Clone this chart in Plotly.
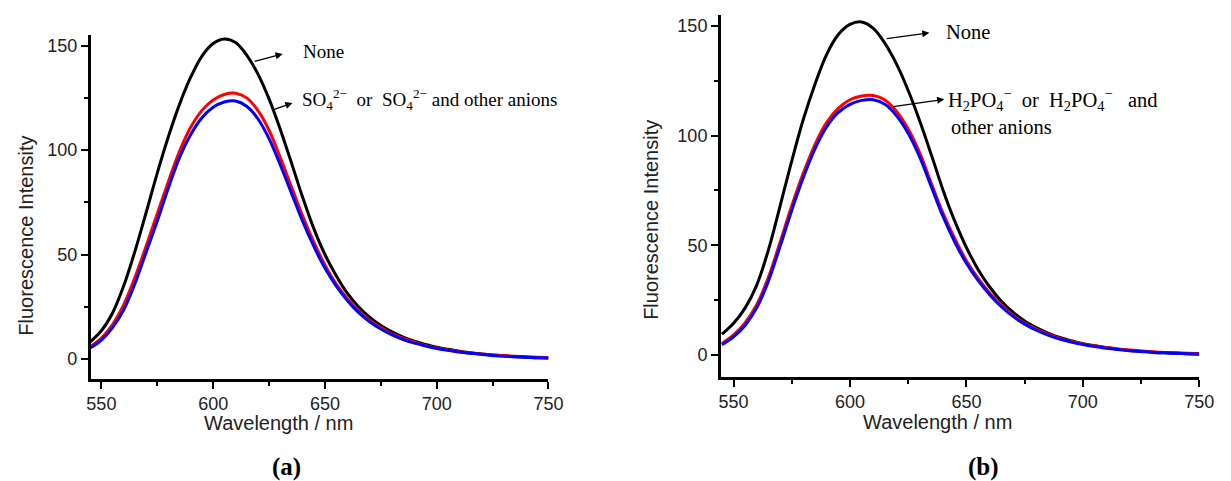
import plotly.graph_objects as go

# ---------------- data ----------------
wavelength = list(range(545, 751, 5))

# panel (a)
a_none = [8.2, 13.5, 22, 35, 51.5, 70, 89, 106.5, 122, 135, 145, 151, 153.2, 151.5, 145.5,
          136.5, 124.5, 110, 94, 77.5, 62.5, 50, 40, 31.5, 25, 20, 16, 13, 10.5, 8.5,
          7, 5.6, 4.6, 3.7, 3, 2.4, 1.9, 1.5, 1.1, 0.8, 0.6, 0.4]
a_so4 = [5.9, 10, 16.5, 26, 39, 54, 69.5, 85, 99.5, 111, 119, 124, 126.6, 127.2, 125,
         119, 109.5, 96.5, 82.5, 68.5, 56, 45, 36, 29, 23, 18.5, 15, 12, 9.8, 8,
         6.5, 5.3, 4.3, 3.5, 2.9, 2.4, 1.9, 1.6, 1.3, 1.0, 0.8, 0.7]
a_so4_mix = [5.2, 9, 15, 23.5, 36, 51, 66, 82, 96.5, 107.5, 115.5, 120.5, 123, 123.5, 121,
             115, 105.5, 93, 79.5, 66, 54, 43.5, 35, 28, 22.3, 17.8, 14.3, 11.5, 9.3, 7.6,
             6.2, 5, 4.1, 3.3, 2.7, 2.2, 1.7, 1.3, 1.0, 0.8, 0.6, 0.5]

# panel (b)
b_none = [9.5, 14.5, 21.5, 32, 48, 68, 88.5, 107.5, 123.5, 137, 146, 150.6, 151.7, 148.8, 142,
          132.5, 120.5, 106.5, 91, 75, 61, 49, 39, 31, 24.5, 19.5, 15.5, 12.5, 10, 8,
          6.5, 5.2, 4.2, 3.4, 2.7, 2.1, 1.7, 1.3, 1.0, 0.8, 0.6, 0.4]
b_h2po4 = [5.3, 9.2, 14.8, 23, 35.5, 51.5, 68, 83, 96, 106, 112.5, 116.3, 118, 118.2, 116.2,
           111, 103, 92, 78, 64.5, 53, 43, 35, 28.3, 22.8, 18.2, 14.6, 11.8, 9.5, 7.7,
           6.2, 5.1, 4.2, 3.4, 2.8, 2.3, 1.9, 1.5, 1.2, 1.0, 0.8, 0.7]
b_h2po4_mix = [4.7, 8.3, 13.6, 21.6, 33.8, 49.5, 66, 81, 94, 104, 110.5, 114.2, 116, 116.3, 114.2,
               109, 101, 90, 76.5, 63, 51.5, 41.8, 34, 27.5, 22, 17.6, 14.1, 11.3, 9.1, 7.3,
               5.9, 4.8, 3.9, 3.1, 2.5, 2.0, 1.6, 1.2, 1.0, 0.8, 0.6, 0.5]

x_ticks = [550, 600, 650, 700, 750]
y_ticks = [0, 50, 100, 150]

# ---------------- figure ----------------
W, H = 1231, 481
fig = go.Figure()

def add_curve(x, y, color, xa, ya, name):
    fig.add_trace(go.Scatter(x=x, y=y, mode="lines", name=name,
                             line=dict(color=color, width=3, shape="spline", smoothing=1.0),
                             xaxis=xa, yaxis=ya, showlegend=False))

add_curve(wavelength, a_none, "black", "x", "y", "None")
add_curve(wavelength, a_so4, "#ff0000", "x", "y", "SO4 2-")
add_curve(wavelength, a_so4_mix, "#0000ff", "x", "y", "SO4 2- and other anions")
add_curve(wavelength, b_none, "black", "x2", "y2", "None")
add_curve(wavelength, b_h2po4, "#ff0000", "x2", "y2", "H2PO4-")
add_curve(wavelength, b_h2po4_mix, "#0000ff", "x2", "y2", "H2PO4- and other anions")

tick_font = dict(family="Liberation Sans, Arial, sans-serif", size=18, color="#222")

def xaxis(domain, rng, anchor):
    return dict(domain=domain, range=rng, anchor=anchor, tickvals=x_ticks,
                showline=True, linecolor="black", linewidth=2.5, mirror=False,
                ticks="outside", ticklen=7, tickwidth=2, tickcolor="black",
                minor=dict(dtick=25, tick0=550, ticks="outside", ticklen=4, tickwidth=2,
                           tickcolor="black", showgrid=False),
                showgrid=False, zeroline=False, tickfont=tick_font, fixedrange=True)

def yaxis(domain, rng, anchor):
    return dict(domain=domain, range=rng, anchor=anchor, tickvals=y_ticks,
                showline=True, linecolor="black", linewidth=2.5, mirror=False,
                ticks="outside", ticklen=7, tickwidth=2, tickcolor="black",
                minor=dict(dtick=25, tick0=0, ticks="outside", ticklen=4, tickwidth=2,
                           tickcolor="black", showgrid=False),
                showgrid=False, zeroline=False, tickfont=tick_font, fixedrange=True)

serif = "Liberation Serif, Times New Roman, serif"
sans = "Liberation Sans, Arial, sans-serif"
nb = "\u00a0"

annotations = [
    # arrows panel (a)
    dict(x=631.1, y=146.0, ax=617.9, ay=142.3, xref="x", yref="y", axref="x", ayref="y",
         text="", showarrow=True, arrowhead=2, arrowsize=1.1, arrowwidth=1.3, arrowcolor="black"),
    dict(x=635.5, y=122.5, ax=626.7, ay=119.2, xref="x", yref="y", axref="x", ayref="y",
         text="", showarrow=True, arrowhead=2, arrowsize=1.1, arrowwidth=1.3, arrowcolor="black"),
    dict(x=639.5, y=147.0, xref="x", yref="y", text="None", showarrow=False,
         xanchor="left", yanchor="middle", font=dict(family=serif, size=19, color="black")),
    dict(x=638.9, y=124.0, xref="x", yref="y",
         text=f"SO<sub>4</sub><sup>2\u2212</sup>{nb}{nb}or{nb}{nb}SO<sub>4</sub><sup>2\u2212</sup> and other anions",
         showarrow=False, xanchor="left", yanchor="middle",
         font=dict(family=serif, size=19, color="black")),
    # arrows panel (b)
    dict(x=634.1, y=146.8, ax=615.1, ay=144.0, xref="x2", yref="y2", axref="x2", ayref="y2",
         text="", showarrow=True, arrowhead=2, arrowsize=1.1, arrowwidth=1.3, arrowcolor="black"),
    dict(x=640.5, y=116.5, ax=617.9, ay=113.1, xref="x2", yref="y2", axref="x2", ayref="y2",
         text="", showarrow=True, arrowhead=2, arrowsize=1.1, arrowwidth=1.3, arrowcolor="black"),
    dict(x=640.5, y=147.3, xref="x2", yref="y2", text="None", showarrow=False,
         xanchor="left", yanchor="middle", font=dict(family=serif, size=20.5, color="black")),
    dict(x=641.3, y=116.2, xref="x2", yref="y2",
         text=f"H<sub>2</sub>PO<sub>4</sub><sup>\u2212</sup>{nb}{nb}or{nb}{nb}H<sub>2</sub>PO<sub>4</sub><sup>\u2212</sup>{nb}{nb}{nb}and",
         showarrow=False, xanchor="left", yanchor="middle",
         font=dict(family=serif, size=20.5, color="black")),
    dict(x=642.6, y=104.0, xref="x2", yref="y2", text="other anions", showarrow=False,
         xanchor="left", yanchor="middle", font=dict(family=serif, size=20.5, color="black")),
    # axis titles
    dict(x=279 / W, y=1 - 423 / H, xref="paper", yref="paper", text="Wavelength / nm",
         showarrow=False, xanchor="center", yanchor="middle",
         font=dict(family=sans, size=20, color="#222")),
    dict(x=948 / W, y=1 - 421.7 / H, xref="paper", yref="paper", text="Wavelength / nm",
         showarrow=False, xanchor="center", yanchor="middle",
         font=dict(family=sans, size=20, color="#222")),
    dict(x=22 / W, y=1 - 236 / H, xref="paper", yref="paper", text="Fluorescence Intensity",
         showarrow=False, xanchor="center", yanchor="middle", textangle=-90,
         font=dict(family=sans, size=20, color="#222")),
    dict(x=657 / W, y=1 - 220 / H, xref="paper", yref="paper", text="Fluorescence Intensity",
         showarrow=False, xanchor="center", yanchor="middle", textangle=-90,
         font=dict(family=sans, size=20, color="#222")),
    # panel captions
    dict(x=287 / W, y=1 - 467 / H, xref="paper", yref="paper", text="<b>(a)</b>",
         showarrow=False, xanchor="center", yanchor="middle",
         font=dict(family=serif, size=25, color="black")),
    dict(x=995 / W, y=1 - 467 / H, xref="paper", yref="paper", text="<b>(b)</b>",
         showarrow=False, xanchor="center", yanchor="middle",
         font=dict(family=serif, size=25, color="black")),
]

fig.update_layout(
    width=W, height=H,
    margin=dict(l=0, r=0, t=0, b=0),
    paper_bgcolor="white", plot_bgcolor="white",
    xaxis=xaxis([88 / W, 553 / W], [545.2, 750], "y"),
    yaxis=yaxis([1 - 379 / H, 1 - 35 / H], [-9.6, 155.1], "x"),
    xaxis2=xaxis([728 / W, 1214 / W], [544.5, 750], "y2"),
    yaxis2=yaxis([1 - 377 / H, 1 - 15 / H], [-10, 154.9], "x2"),
    annotations=annotations,
    showlegend=False,
)

fig.write_html("out.html")
